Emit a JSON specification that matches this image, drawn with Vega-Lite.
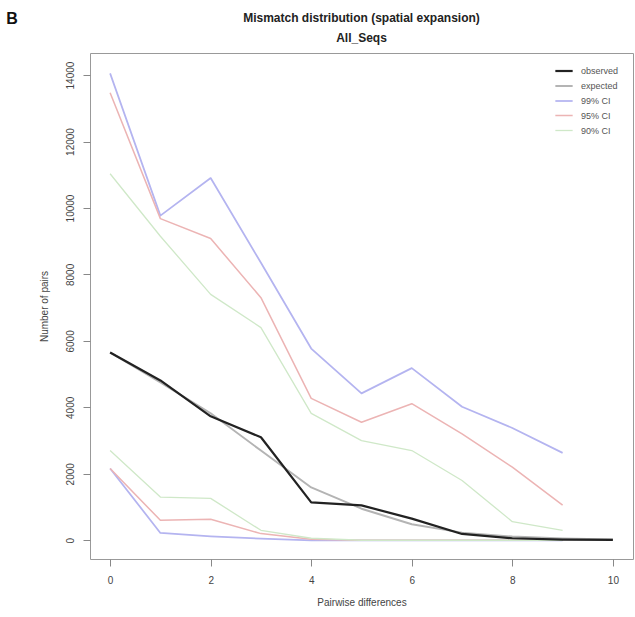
{
  "$schema": "https://vega.github.io/schema/vega-lite/v6.json",
  "width": 543,
  "height": 506,
  "autosize": {"type": "none"},
  "padding": {"left": 90, "top": 53, "right": 2, "bottom": 58},
  "background": "white",
  "title": {
    "text": ["Mismatch distribution (spatial expansion)", "All_Seqs"],
    "fontSize": 12,
    "fontWeight": "bold",
    "font": "Liberation Sans",
    "color": "#222",
    "anchor": "middle",
    "frame": "group",
    "lineHeight": 20,
    "offset": -34
  },
  "config": {
    "view": {"stroke": "#999", "strokeWidth": 1},
    "font": "Liberation Sans"
  },
  "datasets": {
    "lines": [
      {"x": 0, "v": 14050, "series": "99% CI", "bound": "u99"},
      {"x": 1, "v": 9770, "series": "99% CI", "bound": "u99"},
      {"x": 2, "v": 10900, "series": "99% CI", "bound": "u99"},
      {"x": 3, "v": 8350, "series": "99% CI", "bound": "u99"},
      {"x": 4, "v": 5770, "series": "99% CI", "bound": "u99"},
      {"x": 5, "v": 4420, "series": "99% CI", "bound": "u99"},
      {"x": 6, "v": 5180, "series": "99% CI", "bound": "u99"},
      {"x": 7, "v": 4020, "series": "99% CI", "bound": "u99"},
      {"x": 8, "v": 3380, "series": "99% CI", "bound": "u99"},
      {"x": 9, "v": 2630, "series": "99% CI", "bound": "u99"},
      {"x": 0, "v": 13470, "series": "95% CI", "bound": "u95"},
      {"x": 1, "v": 9680, "series": "95% CI", "bound": "u95"},
      {"x": 2, "v": 9080, "series": "95% CI", "bound": "u95"},
      {"x": 3, "v": 7300, "series": "95% CI", "bound": "u95"},
      {"x": 4, "v": 4270, "series": "95% CI", "bound": "u95"},
      {"x": 5, "v": 3550, "series": "95% CI", "bound": "u95"},
      {"x": 6, "v": 4110, "series": "95% CI", "bound": "u95"},
      {"x": 7, "v": 3200, "series": "95% CI", "bound": "u95"},
      {"x": 8, "v": 2200, "series": "95% CI", "bound": "u95"},
      {"x": 9, "v": 1060, "series": "95% CI", "bound": "u95"},
      {"x": 0, "v": 11030, "series": "90% CI", "bound": "u90"},
      {"x": 1, "v": 9150, "series": "90% CI", "bound": "u90"},
      {"x": 2, "v": 7400, "series": "90% CI", "bound": "u90"},
      {"x": 3, "v": 6400, "series": "90% CI", "bound": "u90"},
      {"x": 4, "v": 3820, "series": "90% CI", "bound": "u90"},
      {"x": 5, "v": 3000, "series": "90% CI", "bound": "u90"},
      {"x": 6, "v": 2700, "series": "90% CI", "bound": "u90"},
      {"x": 7, "v": 1800, "series": "90% CI", "bound": "u90"},
      {"x": 8, "v": 560, "series": "90% CI", "bound": "u90"},
      {"x": 9, "v": 300, "series": "90% CI", "bound": "u90"},
      {"x": 0, "v": 2160, "series": "99% CI", "bound": "l99"},
      {"x": 1, "v": 220, "series": "99% CI", "bound": "l99"},
      {"x": 2, "v": 120, "series": "99% CI", "bound": "l99"},
      {"x": 3, "v": 50, "series": "99% CI", "bound": "l99"},
      {"x": 4, "v": 0, "series": "99% CI", "bound": "l99"},
      {"x": 5, "v": 0, "series": "99% CI", "bound": "l99"},
      {"x": 6, "v": 0, "series": "99% CI", "bound": "l99"},
      {"x": 7, "v": 0, "series": "99% CI", "bound": "l99"},
      {"x": 8, "v": 0, "series": "99% CI", "bound": "l99"},
      {"x": 9, "v": 0, "series": "99% CI", "bound": "l99"},
      {"x": 0, "v": 2160, "series": "95% CI", "bound": "l95"},
      {"x": 1, "v": 600, "series": "95% CI", "bound": "l95"},
      {"x": 2, "v": 630, "series": "95% CI", "bound": "l95"},
      {"x": 3, "v": 200, "series": "95% CI", "bound": "l95"},
      {"x": 4, "v": 30, "series": "95% CI", "bound": "l95"},
      {"x": 5, "v": 0, "series": "95% CI", "bound": "l95"},
      {"x": 6, "v": 0, "series": "95% CI", "bound": "l95"},
      {"x": 7, "v": 0, "series": "95% CI", "bound": "l95"},
      {"x": 8, "v": 0, "series": "95% CI", "bound": "l95"},
      {"x": 9, "v": 0, "series": "95% CI", "bound": "l95"},
      {"x": 0, "v": 2700, "series": "90% CI", "bound": "l90"},
      {"x": 1, "v": 1300, "series": "90% CI", "bound": "l90"},
      {"x": 2, "v": 1260, "series": "90% CI", "bound": "l90"},
      {"x": 3, "v": 300, "series": "90% CI", "bound": "l90"},
      {"x": 4, "v": 60, "series": "90% CI", "bound": "l90"},
      {"x": 5, "v": 0, "series": "90% CI", "bound": "l90"},
      {"x": 6, "v": 0, "series": "90% CI", "bound": "l90"},
      {"x": 7, "v": 0, "series": "90% CI", "bound": "l90"},
      {"x": 8, "v": 0, "series": "90% CI", "bound": "l90"},
      {"x": 9, "v": 0, "series": "90% CI", "bound": "l90"},
      {"x": 0, "v": 5650, "series": "expected", "bound": "exp"},
      {"x": 1, "v": 4750, "series": "expected", "bound": "exp"},
      {"x": 2, "v": 3820, "series": "expected", "bound": "exp"},
      {"x": 3, "v": 2700, "series": "expected", "bound": "exp"},
      {"x": 4, "v": 1590, "series": "expected", "bound": "exp"},
      {"x": 5, "v": 950, "series": "expected", "bound": "exp"},
      {"x": 6, "v": 480, "series": "expected", "bound": "exp"},
      {"x": 7, "v": 230, "series": "expected", "bound": "exp"},
      {"x": 8, "v": 110, "series": "expected", "bound": "exp"},
      {"x": 9, "v": 50, "series": "expected", "bound": "exp"},
      {"x": 10, "v": 20, "series": "expected", "bound": "exp"},
      {"x": 0, "v": 5650, "series": "observed", "bound": "obs"},
      {"x": 1, "v": 4810, "series": "observed", "bound": "obs"},
      {"x": 2, "v": 3730, "series": "observed", "bound": "obs"},
      {"x": 3, "v": 3100, "series": "observed", "bound": "obs"},
      {"x": 4, "v": 1140, "series": "observed", "bound": "obs"},
      {"x": 5, "v": 1050, "series": "observed", "bound": "obs"},
      {"x": 6, "v": 650, "series": "observed", "bound": "obs"},
      {"x": 7, "v": 190, "series": "observed", "bound": "obs"},
      {"x": 8, "v": 60, "series": "observed", "bound": "obs"},
      {"x": 9, "v": 20, "series": "observed", "bound": "obs"},
      {"x": 10, "v": 10, "series": "observed", "bound": "obs"}
    ],
    "panel": [{"label": "B", "x": -1.95, "v": 15700}]
  },
  "layer": [
    {
      "data": {"name": "lines"},
      "mark": {"type": "line", "strokeJoin": "round"},
      "encoding": {
        "x": {
          "field": "x", "type": "quantitative",
          "scale": {"domain": [-0.4, 10.4], "nice": false, "zero": false},
          "axis": {
            "values": [0, 2, 4, 6, 8, 10], "grid": false, "domain": false,
            "title": "Pairwise differences", "titleFontSize": 10, "titleFontWeight": "normal",
            "titleColor": "#444", "titlePadding": 12,
            "labelFontSize": 10, "labelColor": "#444", "labelPadding": 9,
            "tickSize": 7, "tickColor": "#888"
          }
        },
        "y": {
          "field": "v", "type": "quantitative",
          "scale": {"domain": [-564, 14664], "nice": false, "zero": false},
          "axis": {
            "values": [0, 2000, 4000, 6000, 8000, 10000, 12000, 14000], "grid": false, "domain": false,
            "format": "d",
            "title": "Number of pairs", "titleFontSize": 10, "titleFontWeight": "normal",
            "titleColor": "#444", "titlePadding": 16,
            "labelFontSize": 10, "labelColor": "#444", "labelAngle": -90,
            "labelAlign": "center", "labelBaseline": "bottom", "labelPadding": 8,
            "tickSize": 7, "tickColor": "#888"
          }
        },
        "color": {
          "field": "series", "type": "nominal",
          "scale": {
            "domain": ["observed", "expected", "99% CI", "95% CI", "90% CI"],
            "range": ["#222222", "#b4b4b4", "#b4b4f0", "#ecb4b4", "#cfe8c8"]
          },
          "legend": {
            "title": null, "orient": "none", "legendX": 464, "legendY": 8,
            "symbolType": "stroke", "symbolSize": 300, "symbolStrokeWidth": 1.5,
            "labelFontSize": 9, "labelColor": "#555", "labelOffset": 7,
            "rowPadding": 0
          }
        },
        "strokeWidth": {
          "field": "series", "type": "nominal",
          "scale": {
            "domain": ["observed", "expected", "99% CI", "95% CI", "90% CI"],
            "range": [2.2, 1.3, 1.1, 1.1, 1.1]
          },
          "legend": null
        },
        "detail": {"field": "bound", "type": "nominal"}
      }
    },
    {
      "data": {"name": "panel"},
      "mark": {"type": "text", "fontSize": 16, "fontWeight": "bold", "font": "Liberation Sans", "color": "#111", "clip": false},
      "encoding": {
        "x": {"field": "x", "type": "quantitative"},
        "y": {"field": "v", "type": "quantitative"},
        "text": {"field": "label", "type": "nominal"}
      }
    }
  ]
}
